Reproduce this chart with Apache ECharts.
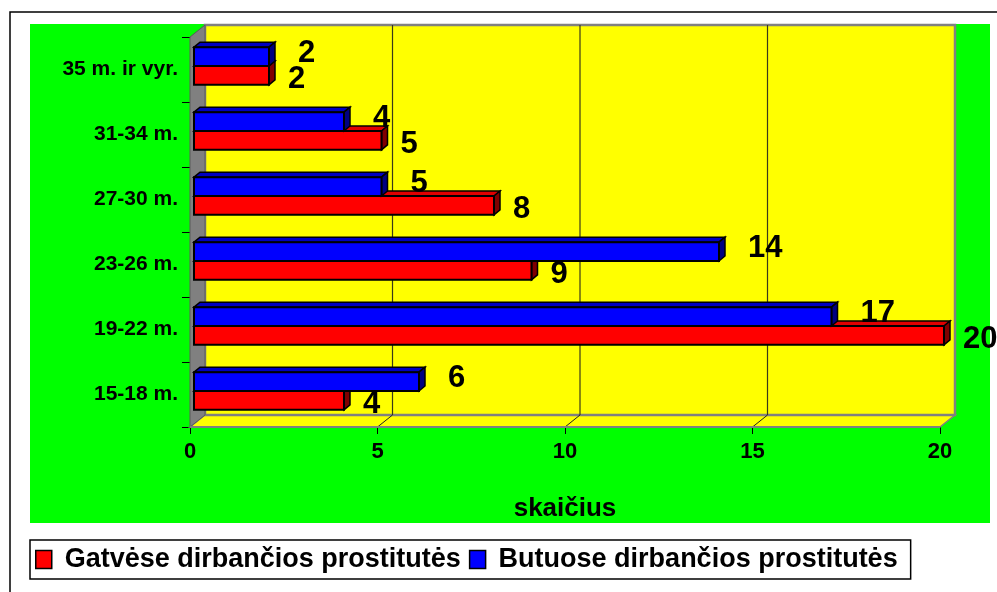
<!DOCTYPE html>
<html>
<head>
<meta charset="utf-8">
<script src="https://cdn.jsdelivr.net/npm/echarts@6/dist/echarts.min.js"></script>
<style>
    html, body { margin: 0; padding: 0; background: #fff; }
    #chart { width: 997px; height: 592px; }
</style>
</head>
<body>
<div id="chart"></div>
<script>
"use strict";
var categories = ['15-18 m.', '19-22 m.', '23-26 m.', '27-30 m.', '31-34 m.', '35 m. ir vyr.'];
var streetValues = [4, 20, 9, 8, 5, 2];
var flatValues = [6, 17, 14, 5, 4, 2];
var seriesNames = ['Gatvėse dirbančios prostitutės', 'Butuose dirbančios prostitutės'];
var xTicks = [0, 5, 10, 15, 20];

var FONT = '"Liberation Sans", Arial, sans-serif';
var chart = echarts.init(document.getElementById('chart'), null, { renderer: 'canvas' });

// back wall, side wall and floor of the 3d box
function renderWalls(params, api) {
    var band = api.size([0, 1])[1];
    var bottom = api.coord([0, 0]);
    var top = api.coord([0, categories.length - 1]);
    var x0 = bottom[0];
    var yB = bottom[1] + band / 2;
    var yT = top[1] - band / 2;
    var x1 = api.coord([xTicks[xTicks.length - 1], 0])[0];
    var dx = 15, dy = -12;
    var kids = [];
    kids.push({
        type: 'polygon',
        shape: { points: [[x0, yB], [x0 + dx, yB + dy], [x1 + dx, yB + dy], [x1, yB]] },
        style: { fill: '#ffff00', stroke: '#808080', lineWidth: 1.5 }
    });
    kids.push({
        type: 'rect',
        shape: { x: x0 + dx, y: yT + dy, width: x1 - x0, height: yB - yT },
        style: { fill: '#ffff00', stroke: '#808080', lineWidth: 2.5 }
    });
    kids.push({
        type: 'polygon',
        shape: { points: [[x0, yT], [x0 + dx, yT + dy], [x0 + dx, yB + dy], [x0, yB]] },
        style: { fill: '#808080', stroke: '#5a5a5a', lineWidth: 1 }
    });
    for (var i = 1; i < xTicks.length - 1; i++) {
        var xf = api.coord([xTicks[i], 0])[0];
        kids.push({
            type: 'line',
            shape: { x1: xf + dx, y1: yT + dy, x2: xf + dx, y2: yB + dy },
            style: { stroke: '#3a3a1a', lineWidth: 1.2 }
        });
        kids.push({
            type: 'line',
            shape: { x1: xf, y1: yB, x2: xf + dx, y2: yB + dy },
            style: { stroke: '#222', lineWidth: 1 }
        });
    }
    kids.push({
        type: 'line',
        shape: { x1: x0, y1: yB, x2: x1, y2: yB },
        style: { stroke: '#808080', lineWidth: 2 }
    });
    return { type: 'group', children: kids };
}

function barRenderer(below, topColor, sideColor, labelDx, labelDy) {
    return function (params, api) {
        var v = api.value(0);
        var ci = api.value(1);
        var p0 = api.coord([0, ci]);
        var p1 = api.coord([v, ci]);
        var band = api.size([0, 1])[1];
        var h = band * 0.29;
        var cy = p0[1] - band * 0.054;
        var yTop = below ? cy : cy - h;
        var xa = p0[0] + 4, xb = p1[0] + 4;
        var ddx = 6, ddy = -5;
        return {
            type: 'group',
            children: [{
                type: 'polygon',
                shape: { points: [[xa, yTop], [xa + ddx, yTop + ddy], [xb + ddx, yTop + ddy], [xb, yTop]] },
                style: { fill: topColor, stroke: '#000', lineWidth: 1.5 }
            }, {
                type: 'polygon',
                shape: { points: [[xb, yTop], [xb + ddx, yTop + ddy], [xb + ddx, yTop + h + ddy], [xb, yTop + h]] },
                style: { fill: sideColor, stroke: '#000', lineWidth: 1.5 }
            }, {
                type: 'rect',
                shape: { x: xa, y: yTop, width: xb - xa, height: h },
                style: { fill: api.visual('color'), stroke: '#000', lineWidth: 2 }
            }, {
                type: 'text',
                z2: 10,
                style: {
                    text: String(v),
                    x: xb + labelDx,
                    y: p0[1] + labelDy,
                    align: 'left',
                    verticalAlign: 'middle',
                    font: 'bold 31px ' + FONT,
                    fill: '#000'
                }
            }]
        };
    };
}

function toPairs(values) {
    return values.map(function (v, i) { return [v, i]; });
}

var option = {
    backgroundColor: '#fff',
    animation: false,
    graphic: [{
        type: 'rect',
        z: -10,
        shape: { x: 10, y: 12, width: 1000, height: 600 },
        style: { fill: '#fff', stroke: '#000', lineWidth: 1.5 }
    }, {
        type: 'rect',
        z: -9,
        shape: { x: 30, y: 24, width: 960, height: 499 },
        style: { fill: '#00ff00' }
    }],
    grid: { left: 190, right: 57, top: 37, bottom: 165 },
    legend: {
        left: 30,
        top: 540,
        orient: 'horizontal',
        data: seriesNames,
        icon: 'rect',
        itemWidth: 16,
        itemHeight: 18,
        itemGap: 8,
        padding: [6, 13, 6, 5],
        backgroundColor: '#fff',
        borderColor: '#000',
        borderWidth: 1.5,
        itemStyle: { borderColor: '#000', borderWidth: 1.5 },
        textStyle: { fontFamily: FONT, fontWeight: 'bold', fontSize: 27, color: '#000', padding: [0, 0, 0, 8] }
    },
    xAxis: {
        type: 'value',
        min: 0,
        max: 20,
        interval: 5,
        name: 'skaičius',
        nameLocation: 'middle',
        nameGap: 69,
        nameTextStyle: { fontFamily: FONT, fontWeight: 'bold', fontSize: 26, color: '#000' },
        axisLine: { show: false },
        axisTick: { show: true, length: 7, lineStyle: { color: '#000', width: 1 } },
        axisLabel: { margin: 14, fontFamily: FONT, fontWeight: 'bold', fontSize: 22, color: '#000' },
        splitLine: { show: false }
    },
    yAxis: {
        type: 'category',
        data: categories,
        axisLine: { show: false },
        axisTick: { show: true, length: 8, lineStyle: { color: '#000', width: 1 } },
        axisLabel: { margin: 12, fontFamily: FONT, fontWeight: 'bold', fontSize: 21, color: '#000' },
        splitLine: { show: false }
    },
    series: [{
        type: 'custom',
        name: 'walls',
        z: 1,
        clip: false,
        silent: true,
        data: [[0, 0]],
        encode: { x: 0, y: 1 },
        renderItem: renderWalls
    }, {
        type: 'custom',
        name: seriesNames[0],
        z: 2,
        clip: false,
        itemStyle: { color: '#ff0000' },
        data: toPairs(streetValues),
        encode: { x: 0, y: 1 },
        renderItem: barRenderer(true, '#e00000', '#800000', 19, 10)
    }, {
        type: 'custom',
        name: seriesNames[1],
        z: 3,
        clip: false,
        itemStyle: { color: '#0000ff' },
        data: toPairs(flatValues),
        encode: { x: 0, y: 1 },
        renderItem: barRenderer(false, '#0000c0', '#000080', 29, -16)
    }]
};

chart.setOption(option);
</script>
</body>
</html>
